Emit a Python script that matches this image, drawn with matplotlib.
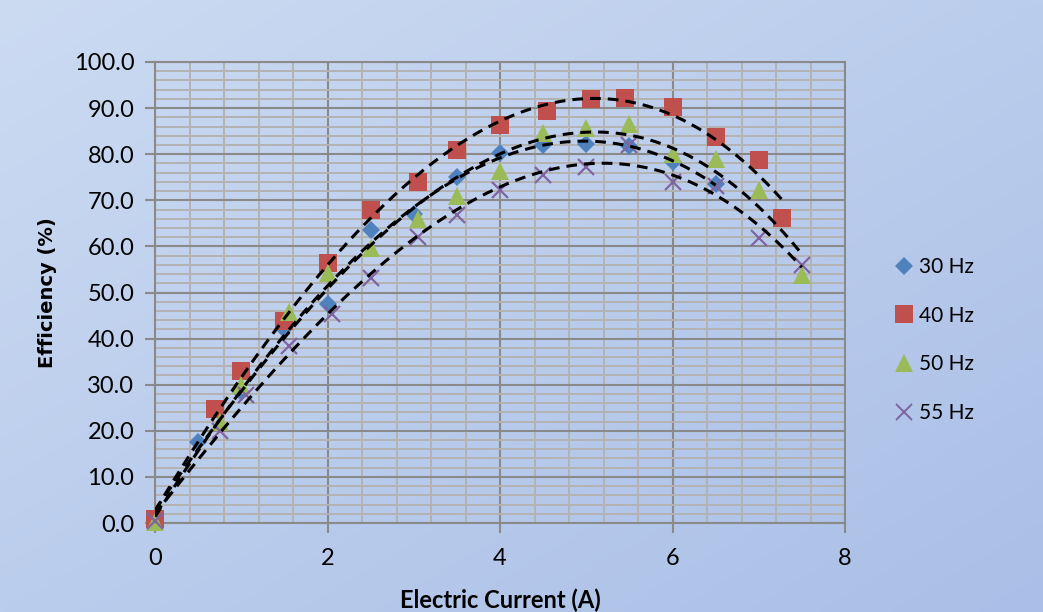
import numpy as np
import matplotlib
matplotlib.use("Agg")
from matplotlib import pyplot as plt
from matplotlib.lines import Line2D

plt.rcParams['font.family'] = ['Lato', 'DejaVu Sans']

# data
x30 = [0, 0.5, 1.0, 1.5, 2.0, 2.5, 3.0, 3.5, 4.0, 4.5, 5.0, 5.5, 6.0, 6.5]
y30 = [0.3, 17.5, 28.5, 42.0, 47.5, 63.5, 67.0, 75.0, 80.3, 82.0, 82.3, 81.8, 78.3, 73.5]

x40 = [0, 0.7, 1.0, 1.5, 2.0, 2.5, 3.05, 3.5, 4.0, 4.55, 5.05, 5.45, 6.0, 6.5, 7.0, 7.27]
y40 = [0.9, 24.8, 33.0, 43.8, 56.4, 67.8, 74.0, 81.0, 86.3, 89.3, 92.0, 92.1, 90.3, 83.8, 78.7, 66.2]

x50 = [0, 0.75, 1.0, 1.55, 2.0, 2.5, 3.05, 3.5, 4.0, 4.5, 5.0, 5.5, 6.0, 6.5, 7.0, 7.5]
y50 = [0.2, 22.0, 30.0, 45.8, 54.2, 59.6, 66.0, 71.0, 76.3, 84.5, 85.7, 86.5, 80.0, 79.0, 72.3, 53.8]

x55 = [0, 0.75, 1.05, 1.55, 2.05, 2.5, 3.05, 3.5, 4.0, 4.5, 5.0, 5.5, 6.0, 6.5, 7.0, 7.5]
y55 = [0.5, 20.0, 27.8, 38.3, 45.3, 53.2, 62.0, 66.9, 72.3, 75.5, 77.2, 82.0, 73.9, 73.2, 61.9, 56.0]

labels = ['30 Hz', '40 Hz', '50 Hz', '55 Hz']
colors = ['#4F81BD', '#C0504D', '#9BBB59', '#8064A2']
markers = ['D', 's', '^', 'x']
sizes = [9.5, 13, 13, 12]

fig = plt.figure(figsize=(10.43, 6.12), dpi=100)

# background gradient of the chart area
bg = fig.add_axes([0, 0, 1, 1], zorder=-10)
gx, gy = np.meshgrid(np.linspace(0, 1, 200), np.linspace(0, 1, 200))
t = (gx + gy) / 2
c0 = np.array([204, 219, 242]) / 255
c1 = np.array([170, 191, 231]) / 255
img = c0[None, None, :] * (1 - t[..., None]) + c1[None, None, :] * t[..., None]
bg.imshow(img, aspect='auto', extent=[0, 1, 0, 1])
bg.axis('off')

ax = fig.add_axes([155 / 1043, 1 - 523 / 612, 690 / 1043, 461 / 612])
ax.set_facecolor('none')

ax.set_xlim(0, 8)
ax.set_ylim(0, 100)
ax.set_xticks(np.arange(0, 9, 2))
ax.set_xticks(np.arange(0, 8.01, 0.4), minor=True)
ax.set_yticks(np.arange(0, 101, 10))
ax.set_yticks(np.arange(0, 101, 2), minor=True)
ax.set_yticklabels([f'{v:.1f}' for v in np.arange(0, 101, 10)])

ax.grid(which='minor', color='#B3B3B3', lw=1.4, zorder=0)
ax.grid(which='major', color='#8A8A8A', lw=1.5, zorder=0)
for s in ax.spines.values():
    s.set_color('#8A8A8A')
    s.set_linewidth(1.5)
ax.tick_params(which='major', length=7, width=1.5, color='#8A8A8A',
               labelsize=17, pad=8)
ax.tick_params(which='minor', length=0)
ax.tick_params(axis='x', pad=11)

series = [(x30, y30), (x40, y40), (x50, y50), (x55, y55)]
for (xs, ys), c, m, ms, lab in zip(series, colors, markers, sizes, labels):
    if m == 'x':
        ax.plot(xs, ys, ls='none', marker=m, ms=ms, mew=1.6, color=c,
                label=lab, zorder=3, clip_on=False)
    else:
        ax.plot(xs, ys, ls='none', marker=m, ms=ms, mew=0, color=c,
                label=lab, zorder=3, clip_on=False)

# polynomial trendlines
for xs, ys in series:
    p = np.polyfit(xs, ys, 3)
    xx = np.linspace(0, max(xs), 200)
    ax.plot(xx, np.polyval(p, xx), color='black', lw=2.2,
            ls=(0, (3.5, 2.3)), zorder=4)

ax.set_xlabel('Electric Current (A)', fontsize=17, fontweight='bold', labelpad=14)
ax.set_ylabel('Efficiency (%)', fontsize=14, fontweight='bold', labelpad=12,
              family='DejaVu Sans')

handles = [Line2D([], [], ls='none', marker=m, ms=ms * 0.95, color=c,
                  mew=1.4 if m == 'x' else 0)
           for c, m, ms in zip(colors, markers, sizes)]
fig.legend(handles, labels, loc='center left', bbox_to_anchor=(873 / 1043, 1 - 340 / 612),
           frameon=False, fontsize=15, labelspacing=1.37, handletextpad=0.1,
           handlelength=1.2)

fig.savefig('out.png', dpi=100)
